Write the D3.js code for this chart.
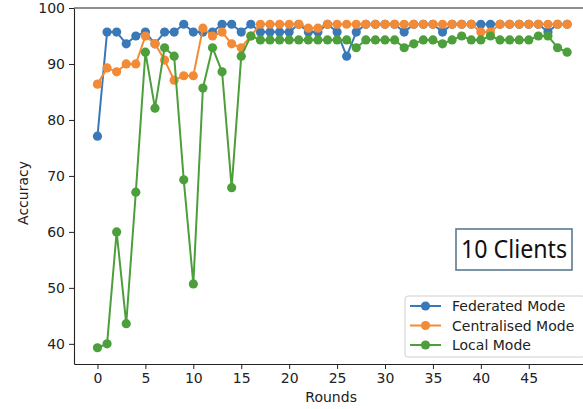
<!DOCTYPE html>
<html>
<head>
<meta charset="utf-8">
<script src="https://cdn.jsdelivr.net/npm/d3@7"></script>
<style>
  html, body { margin: 0; padding: 0; background: #fff; }
  svg { display: block; font-family: "DejaVu Sans", sans-serif; }
</style>
</head>
<body>
<svg id="chart" width="583" height="409"></svg>
<script>
// Accuracy per training round for each mode
const rounds = d3.range(0, 50);

const federated = [
  77.1, 95.7, 95.7, 93.6, 95.0, 95.7, 93.6, 95.7, 95.7, 97.1,
  95.7, 95.7, 95.7, 97.1, 97.1, 95.7, 97.1, 95.7, 95.7, 95.7,
  95.7, 97.1, 95.7, 95.7, 97.1, 95.7, 91.4, 95.7, 97.1, 97.1,
  97.1, 97.1, 95.7, 97.1, 97.1, 97.1, 95.7, 97.1, 97.1, 97.1,
  97.1, 97.1, 97.1, 97.1, 97.1, 97.1, 97.1, 95.7, 97.1, 97.1
];

const centralised = [
  86.4, 89.3, 88.6, 90.0, 90.0, 95.0, 93.6, 90.7, 87.1, 87.9,
  87.9, 96.4, 95.0, 95.7, 93.6, 92.9, 95.0, 97.1, 97.1, 97.1,
  97.1, 97.1, 96.4, 96.4, 97.1, 97.1, 97.1, 97.1, 97.1, 97.1,
  97.1, 97.1, 97.1, 97.1, 97.1, 97.1, 97.1, 97.1, 97.1, 97.1,
  95.7, 95.7, 97.1, 97.1, 97.1, 97.1, 97.1, 97.1, 97.1, 97.1
];

const local = [
  39.3, 40.0, 60.0, 43.6, 67.1, 92.1, 82.1, 92.9, 91.4, 69.3,
  50.7, 85.7, 92.9, 88.6, 67.9, 91.4, 95.0, 94.3, 94.3, 94.3,
  94.3, 94.3, 94.3, 94.3, 94.3, 94.3, 94.3, 92.9, 94.3, 94.3,
  94.3, 94.3, 92.9, 93.6, 94.3, 94.3, 93.6, 94.3, 95.0, 94.3,
  94.3, 95.0, 94.3, 94.3, 94.3, 94.3, 95.0, 95.0, 92.9, 92.1
];

const seriesNames = ["Federated Mode", "Centralised Mode", "Local Mode"];
const seriesColors = ["#3a79b8", "#f38a35", "#4c9f3b"];
const xTicks = [0, 5, 10, 15, 20, 25, 30, 35, 40, 45];
const yTicks = [40, 50, 60, 70, 80, 90, 100];
const annotation = "10 Clients";

const svg = d3.select("#chart");

const plot = { left: 74, top: 8, right: 590.6, bottom: 364 };

const x = d3.scaleLinear().domain([-2.45, 51.45]).range([plot.left, plot.right]);
const y = d3.scaleLinear().domain([36.4, 100]).range([plot.bottom, plot.top]);

// axes
const xAxis = d3.axisBottom(x).tickValues(xTicks).tickSize(5).tickPadding(4).tickSizeOuter(0);
const yAxis = d3.axisLeft(y).tickValues(yTicks).tickSize(5).tickPadding(4).tickSizeOuter(0);

const gx = svg.append("g").attr("transform", `translate(0,${plot.bottom})`).call(xAxis);
const gy = svg.append("g").attr("transform", `translate(${plot.left},0)`).call(yAxis);

[gx, gy].forEach(g => {
  g.selectAll("text").attr("font-size", 14).attr("fill", "#222")
    .attr("font-family", "DejaVu Sans, sans-serif");
  g.selectAll("line").attr("stroke", "#222").attr("stroke-width", 1);
  g.select(".domain").attr("stroke", "#222").attr("stroke-width", 1.1);
});

// top spine
svg.append("line")
  .attr("x1", plot.left).attr("x2", plot.right)
  .attr("y1", plot.top).attr("y2", plot.top)
  .attr("stroke", "#222").attr("stroke-width", 1.1);

// axis titles
svg.append("text")
  .attr("x", (x(0) + x(45)) / 2 + 18).attr("y", 402)
  .attr("text-anchor", "middle").attr("font-size", 14).attr("fill", "#222")
  .text("Rounds");

svg.append("text")
  .attr("transform", `translate(28,${(plot.top + plot.bottom) / 2 + 7}) rotate(-90)`)
  .attr("text-anchor", "middle").attr("font-size", 14).attr("fill", "#222")
  .text("Accuracy");

// series lines and markers
const allSeries = [federated, centralised, local];
const line = d3.line().x((d, i) => x(rounds[i])).y(d => y(d));

allSeries.forEach((vals, k) => {
  const g = svg.append("g");
  g.append("path")
    .datum(vals)
    .attr("d", line)
    .attr("fill", "none")
    .attr("stroke", seriesColors[k])
    .attr("stroke-width", 2)
    .attr("stroke-linejoin", "round");
  g.selectAll("circle")
    .data(vals)
    .join("circle")
    .attr("cx", (d, i) => x(rounds[i]))
    .attr("cy", d => y(d))
    .attr("r", 4.6)
    .attr("fill", seriesColors[k]);
});

// annotation box
const ann = svg.append("g");
ann.append("rect")
  .attr("x", 456).attr("y", 229).attr("width", 116).attr("height", 41)
  .attr("fill", "#fff").attr("stroke", "#5a7a92").attr("stroke-width", 1.6);
ann.append("text")
  .attr("x", 514).attr("y", 258)
  .attr("text-anchor", "middle")
  .attr("font-family", "Noto Sans, sans-serif")
  .attr("font-size", 25).attr("fill", "#111")
  .attr("textLength", 106).attr("lengthAdjust", "spacingAndGlyphs")
  .text(annotation);

// legend
const legend = svg.append("g");
legend.append("rect")
  .attr("x", 405).attr("y", 296).attr("width", 180).attr("height", 61)
  .attr("rx", 3).attr("fill", "#fff").attr("fill-opacity", 0.85)
  .attr("stroke", "#d0d0d0").attr("stroke-width", 1);

seriesNames.forEach((name, k) => {
  const cy = 306 + k * 19.5;
  legend.append("line")
    .attr("x1", 410).attr("x2", 441).attr("y1", cy).attr("y2", cy)
    .attr("stroke", seriesColors[k]).attr("stroke-width", 2);
  legend.append("circle")
    .attr("cx", 425.5).attr("cy", cy).attr("r", 4.6).attr("fill", seriesColors[k]);
  legend.append("text")
    .attr("x", 452).attr("y", cy + 5)
    .attr("font-size", 14).attr("fill", "#222")
    .text(name);
});
</script>
</body>
</html>
